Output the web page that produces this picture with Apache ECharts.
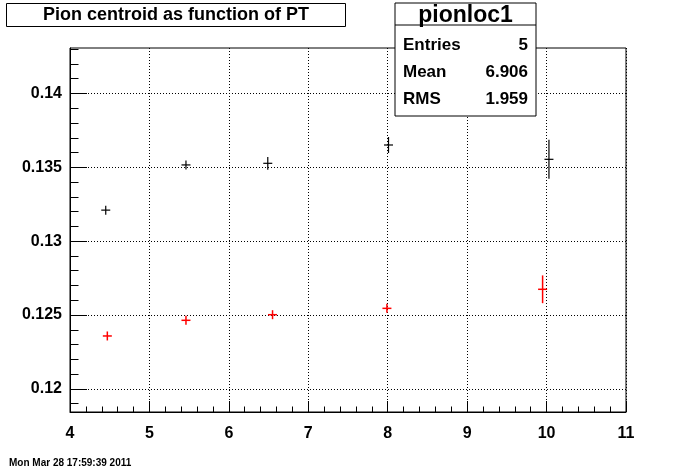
<!DOCTYPE html>
<html><head><meta charset="utf-8">
<script src="https://cdn.jsdelivr.net/npm/echarts@6/dist/echarts.min.js"></script>
<style>html,body{margin:0;padding:0;background:#fff}#c{width:696px;height:472px}</style>
</head><body><div id="c"></div>
<script>
// ---- data ----
const blackX = [4.45, 5.46, 6.49, 8.01, 10.03];
const blackY = [0.1321, 0.13516, 0.13527, 0.13651, 0.13554];
const blackErr = [0.00025, 0.0003, 0.00043, 0.00054, 0.00132];
const redX = [4.47, 5.46, 6.55, 7.99, 9.95];
const redY = [0.12358, 0.12464, 0.12502, 0.12545, 0.12674];
const redErr = [0.0002, 0.0002, 0.00018, 0.0003, 0.00094];
const yMajorTicks = [0.12, 0.125, 0.13, 0.135, 0.14];
const yMinorTicks = [0.119, 0.121, 0.122, 0.123, 0.124, 0.126, 0.127, 0.128, 0.129, 0.131, 0.132, 0.133, 0.134, 0.136, 0.137, 0.138, 0.139, 0.141, 0.142, 0.143];
const xMin = 4, xMax = 11;
const yMin = 0.118432, yMax = 0.143077;
const titleText = 'Pion centroid as function of PT';
const statsName = 'pionloc1';
const statsRows = [['Entries', '5'], ['Mean', '6.906'], ['RMS', '1.959']];
const dateText = 'Mon Mar 28 17:59:39 2011';

const FONT = '"Liberation Sans", Arial, Helvetica, sans-serif';
const chart = echarts.init(document.getElementById('c'), null, {renderer: 'canvas'});

function plusRenderer(color, lw) {
  return function (params, api) {
    const x = api.value(0), y = api.value(1), e = api.value(2);
    const c = api.coord([x, y]);
    const top = api.coord([x, y + e])[1];
    const bot = api.coord([x, y - e])[1];
    const arm = 4.5;
    return {
      type: 'group',
      children: [
        {type: 'line', shape: {x1: c[0] - arm, y1: c[1], x2: c[0] + arm, y2: c[1]}, style: {stroke: color, lineWidth: lw}},
        {type: 'line', shape: {x1: c[0], y1: Math.min(top, c[1] - arm), x2: c[0], y2: Math.max(bot, c[1] + arm)}, style: {stroke: color, lineWidth: lw}}
      ]
    };
  };
}

const statsGraphics = [];
const sx = 395, sy = 3, sw = 141, sh = 113;
statsGraphics.push({type: 'rect', shape: {x: sx, y: sy, width: sw, height: sh}, style: {fill: '#fff', stroke: '#000', lineWidth: 1}, z: 100});
statsGraphics.push({type: 'line', shape: {x1: sx, y1: 25, x2: sx + sw, y2: 25}, style: {stroke: '#000', lineWidth: 1}, z: 101});
statsGraphics.push({type: 'text', x: sx + sw / 2, y: 15.5, style: {text: statsName, font: 'bold 23px ' + FONT, textAlign: 'center', textVerticalAlign: 'middle', fill: '#000'}, z: 102});
const rowY = [45, 72.5, 99.5];
statsRows.forEach((r, i) => {
  statsGraphics.push({type: 'text', x: 403, y: rowY[i], style: {text: r[0], font: 'bold 17px ' + FONT, textAlign: 'left', textVerticalAlign: 'middle', fill: '#000'}, z: 102});
  statsGraphics.push({type: 'text', x: 528, y: rowY[i], style: {text: r[1], font: 'bold 17px ' + FONT, textAlign: 'right', textVerticalAlign: 'middle', fill: '#000'}, z: 102});
});

const option = {
  animation: false,
  backgroundColor: '#fff',
  grid: {left: 70, right: 70, top: 48, bottom: 60, show: true, borderColor: '#000', borderWidth: 1, backgroundColor: 'transparent'},
  xAxis: {
    type: 'value', min: xMin, max: xMax, interval: 1,
    axisLine: {show: true, lineStyle: {color: '#000', width: 1}},
    axisTick: {show: true, inside: true, length: 11, lineStyle: {color: '#000'}},
    minorTick: {show: true, splitNumber: 5, length: 5.5, lineStyle: {color: '#000'}},
    splitLine: {show: true, lineStyle: {color: '#000', type: [1, 2], width: 1}},
    axisLabel: {color: '#000', fontFamily: FONT, fontWeight: 'bold', fontSize: 16, margin: 14}
  },
  yAxis: [{
    type: 'value', min: yMin, max: yMax,
    axisLine: {show: true, lineStyle: {color: '#000', width: 1}},
    axisTick: {show: true, inside: true, length: 17, customValues: yMajorTicks, lineStyle: {color: '#000'}},
    splitLine: {show: true, lineStyle: {color: '#000', type: [1, 2], width: 1}},
    axisLabel: {color: '#000', fontFamily: FONT, fontWeight: 'bold', fontSize: 16, margin: 8, customValues: yMajorTicks}
  }, {
    type: 'value', min: yMin, max: yMax, position: 'left',
    axisLine: {show: false},
    axisTick: {show: true, inside: true, length: 8.5, customValues: yMinorTicks, lineStyle: {color: '#000'}},
    splitLine: {show: false},
    axisLabel: {show: false}
  }],
  series: [{
    type: 'custom', renderItem: plusRenderer('#000000', 1.2),
    data: blackX.map((x, i) => [x, blackY[i], blackErr[i]]), z: 10
  }, {
    type: 'custom', renderItem: plusRenderer('#ff0000', 1.5),
    data: redX.map((x, i) => [x, redY[i], redErr[i]]), z: 10
  }],
  graphic: [
    {type: 'rect', shape: {x: 6.5, y: 3.5, width: 339, height: 23}, style: {fill: '#fff', stroke: '#000', lineWidth: 1}, z: 100},
    {type: 'text', x: 176, y: 15.5, style: {text: titleText, font: 'bold 18px ' + FONT, textAlign: 'center', textVerticalAlign: 'middle', fill: '#000'}, z: 101},
    {type: 'text', x: 9, y: 463, style: {text: dateText, font: 'bold 10px ' + FONT, textAlign: 'left', textVerticalAlign: 'middle', fill: '#000'}, z: 101}
  ].concat(statsGraphics)
};
chart.setOption(option);
</script>
</body></html>
